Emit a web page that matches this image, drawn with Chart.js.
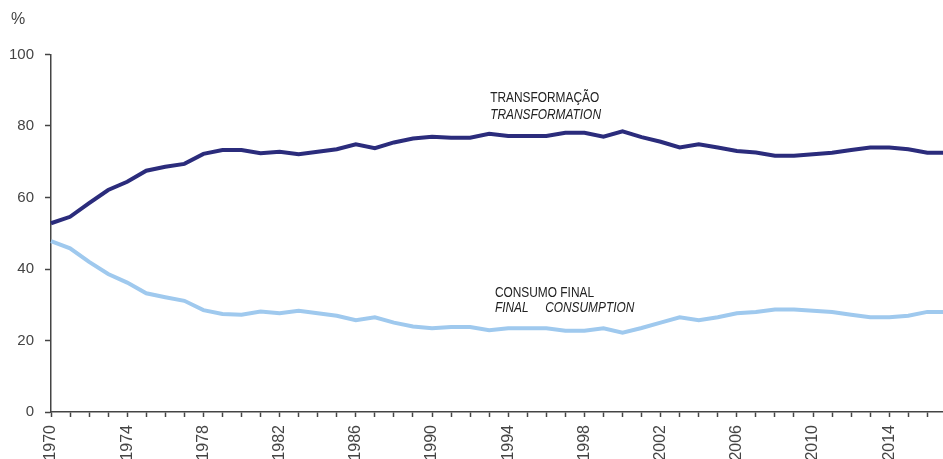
<!DOCTYPE html>
<html>
<head>
<meta charset="utf-8">
<script src="https://cdn.jsdelivr.net/npm/chart.js@4/dist/chart.umd.min.js"></script>
<style>
  html, body { margin: 0; padding: 0; background: #fff; overflow: hidden; width: 943px; height: 459px; }
  #wrap { position: absolute; left: 0; top: 0; }
</style>
</head>
<body>
<div id="wrap"><canvas id="myChart" width="960" height="480"></canvas></div>
<script>
var years = [];
for (var y = 1970; y <= 2017; y++) years.push(String(y));

var transformacao = [
	52.8, 54.6, 58.4, 62.1, 64.4, 67.5, 68.6, 69.4, 72.2, 73.3,
	73.3, 72.4, 72.8, 72.1, 72.8, 73.5, 74.9, 73.8, 75.4, 76.5,
	77.0, 76.7, 76.7, 77.8, 77.2, 77.2, 77.2, 78.1, 78.1, 77.0,
	78.5, 76.9, 75.6, 74.0, 74.9, 74.0, 73.0, 72.6, 71.7, 71.7,
	72.1, 72.5, 73.3, 74.0, 74.0, 73.5, 72.5, 72.5
];
var consumoFinal = [
	47.8, 45.8, 42.0, 38.6, 36.2, 33.2, 32.1, 31.1, 28.5, 27.4,
	27.2, 28.1, 27.6, 28.3, 27.6, 26.9, 25.7, 26.5, 25.0, 23.9,
	23.4, 23.8, 23.8, 22.9, 23.4, 23.4, 23.4, 22.7, 22.7, 23.4,
	22.2, 23.5, 25.0, 26.5, 25.7, 26.5, 27.6, 28.0, 28.7, 28.7,
	28.3, 28.0, 27.2, 26.5, 26.5, 26.9, 28.0, 28.0
];
var yTicks = [0, 20, 40, 60, 80, 100];

// labels placed at data coordinates: [year index, value, text, italic]
var labelsTexto = [
	[23.05, 86.8, "TRANSFORMAÇÃO", false],
	[23.05, 81.9, "TRANSFORMATION", true],
	[23.3, 32.25, "CONSUMO FINAL", false],
	[23.3, 27.9, "FINAL     CONSUMPTION", true]
];

var textos = {
	id: "textos",
	afterDraw: function (chart) {
		var c = chart.ctx;
		var xs = chart.scales.x, ys = chart.scales.y;
		c.save();
		c.fillStyle = "#222";
		c.textBaseline = "alphabetic";
		c.textAlign = "left";
		labelsTexto.forEach(function (t) {
			var px = xs.getPixelForValue(t[0]), py = ys.getPixelForValue(t[1]);
			c.save();
			c.translate(px, py);
			c.scale(0.85, 1);
			c.font = (t[3] ? "italic " : "") + "14px 'Liberation Sans', Arial, sans-serif";
			c.fillText(t[2], 0, 0);
			c.restore();
		});
		c.font = "16px 'Liberation Sans', Arial, sans-serif";
		c.fillStyle = "#444";
		c.fillText("%", 11, 24);
		c.restore();
	}
};

var ctx = document.getElementById("myChart").getContext("2d");

var graphData = {
	type: "line",
	data: {
		labels: years,
		datasets: [
			{
				label: "Transformação",
				data: transformacao,
				borderColor: "#2b2c7c",
				borderWidth: 4,
				pointRadius: 0,
				tension: 0,
			},
			{
				label: "Consumo final",
				data: consumoFinal,
				borderColor: "#9fc9ee",
				borderWidth: 4,
				pointRadius: 0,
				tension: 0,
			},
		],
	},
	options: {
		responsive: false,
		animation: false,
		layout: { padding: { left: 0, top: 54.5, right: 13.6, bottom: 0 } },
		plugins: { legend: { display: false }, tooltip: { enabled: false } },
		scales: {
			x: {
				type: "category",
				offset: false,
				border: { color: "#444", width: 1.5 },
				grid: { drawOnChartArea: false, tickLength: 5, tickColor: "#444", tickWidth: 1.5 },
				ticks: {
					autoSkip: false,
					maxRotation: 90,
					minRotation: 90,
					padding: 8,
					color: "#444",
					font: { family: "'Liberation Sans', Arial, sans-serif", size: 16 },
					callback: function (v, i) { return i % 4 === 0 ? years[i] : ""; }
				},
				afterFit: function (s) { s.height = 68; s.paddingRight = 0; s.paddingLeft = 0; }
			},
			y: {
				min: 0,
				max: 100,
				border: { color: "#444", width: 1.5 },
				grid: { drawOnChartArea: false, tickLength: 6, tickColor: "#444", tickWidth: 1.5 },
				afterBuildTicks: function (s) { s.ticks = yTicks.map(function (v) { return { value: v }; }); },
				ticks: {
					padding: 11,
					color: "#444",
					font: { family: "'Liberation Sans', Arial, sans-serif", size: 15 }
				},
				afterFit: function (s) { s.width = 51; }
			}
		}
	},
	plugins: [textos]
};

var myChart = new Chart(ctx, graphData);
</script>
</body>
</html>
